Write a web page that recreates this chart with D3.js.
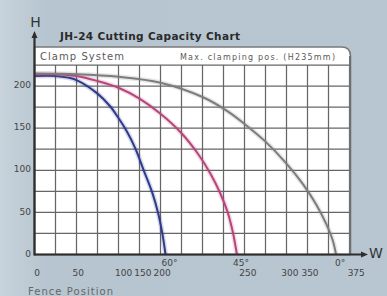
<!DOCTYPE html>
<html>
<head>
<meta charset="utf-8">
<script src="https://cdn.jsdelivr.net/npm/d3@7/dist/d3.min.js"></script>
<style>
	html, body { margin: 0; padding: 0; }
	svg { display: block; }
	text { font-family: "DejaVu Sans", sans-serif; }
</style>
</head>
<body>
<svg id="chart" width="387" height="296"></svg>
<script>
	var title = "JH-24 Cutting Capacity Chart";
	var headLeft = "Clamp System";
	var headRight = "Max. clamping pos. (H235mm)";
	var xName = "W", yName = "H", xFoot = "Fence Position";

	// fence position (mm) -> cutting height (mm), one list per mitre angle
	var angles = ["60°", "45°", "0°"];
	var colors = ["#2f3a8a", "#b8447c", "#7c7c7c"];
	var cut60 = [[0, 212], [25, 212], [40, 210], [50, 207], [75, 191], [90, 176], [100, 162],
		[110, 146], [120, 126], [130, 100], [140, 74], [147, 50], [152, 26], [156, 0]];
	var cut45 = [[0, 214], [25, 214], [50, 212], [75, 206], [100, 198], [125, 185], [150, 167],
		[175, 144], [195, 119], [210, 95], [221, 73], [230, 50], [236, 27], [241, 0]];
	var cut0 = [[0, 215], [50, 214], [100, 211], [150, 204], [200, 187], [230, 170], [250, 155],
		[275, 134], [300, 108], [320, 83], [335, 60], [347, 37], [355, 17], [359, 0]];

	var yTicks = [0, 50, 100, 150, 200];
	var xTickLabels = ["0", "50", "100", "150", "200", "250", "300", "350", "375"];
	// where the printed labels sit along the axis (they are crowded in the original)
	var xTickAt = [3, 52, 106, 129, 152, 254, 304, 328, 383];

	var svg = d3.select("#chart");
	var W = 387, H = 296;
	var pLeft = 34.5, pRight = 349.5, pTop = 65, pBottom = 254.5;

	var x = d3.scaleLinear().domain([0, 375]).range([pLeft, pRight]);
	var y = d3.scaleLinear().domain([0, 225]).range([pBottom, pTop]);

	var defs = svg.append("defs");
	var bg = defs.append("linearGradient").attr("id", "bg");
	bg.append("stop").attr("offset", "0").attr("stop-color", "#c8d3db");
	bg.append("stop").attr("offset", "0.12").attr("stop-color", "#b6c5d0");
	bg.append("stop").attr("offset", "1").attr("stop-color", "#b7c6d1");
	svg.append("rect").attr("width", W).attr("height", H).attr("fill", "url(#bg)");

	// header box with the rounded top-right corner
	var hTop = 47, r = 9;
	svg.append("path")
		.attr("d", "M" + pLeft + "," + pBottom + "V" + hTop + "H" + (pRight - r + 1)
			+ "Q" + (pRight + 1) + "," + hTop + " " + (pRight + 1) + "," + (hTop + r) + "V" + pBottom + "Z")
		.attr("fill", "#ffffff")
		.attr("stroke", "#7a7a7a")
		.attr("stroke-width", 1.6);

	svg.append("text").attr("x", 40).attr("y", 60)
		.attr("font-size", 10).attr("fill", "#5a5a5a").attr("textLength", 84)
		.text(headLeft);
	svg.append("text").attr("x", 180).attr("y", 59.5)
		.attr("font-size", 8).attr("fill", "#5a5a5a").attr("textLength", 155)
		.text(headRight);

	// grid every 25 mm
	var grid = svg.append("g").attr("stroke", "#666").attr("stroke-width", 1.25);
	d3.range(0, 376, 25).forEach(function(v) {
		grid.append("line").attr("x1", x(v)).attr("x2", x(v)).attr("y1", pTop).attr("y2", pBottom);
	});
	d3.range(0, 226, 25).forEach(function(v) {
		grid.append("line").attr("x1", pLeft).attr("x2", pRight).attr("y1", y(v)).attr("y2", y(v));
	});
	svg.append("line").attr("x1", pRight + 0.5).attr("x2", pRight + 0.5).attr("y1", hTop + r).attr("y2", pBottom)
		.attr("stroke", "#6f6f6f").attr("stroke-width", 2);

	var line = d3.line()
		.x(function(d) { return x(d[0]); })
		.y(function(d) { return y(d[1]); })
		.curve(d3.curveCatmullRom.alpha(0.5));

	var series = [cut60, cut45, cut0];
	var curves = svg.append("g").attr("fill", "none");
	series.forEach(function(s, i) {
		curves.append("path").attr("d", line(s))
			.attr("stroke", colors[i]).attr("stroke-opacity", 0.18).attr("stroke-width", 5);
		curves.append("path").attr("d", line(s))
			.attr("stroke", colors[i]).attr("stroke-width", 2);
	});

	// axes with arrows
	var axes = svg.append("g").attr("stroke", "#2e2e2e").attr("stroke-width", 2.2);
	axes.append("line").attr("x1", pLeft).attr("x2", pLeft).attr("y1", pBottom + 1).attr("y2", 36);
	axes.append("line").attr("x1", pLeft).attr("x2", 362).attr("y1", pBottom).attr("y2", pBottom);
	svg.append("path").attr("d", "M" + pLeft + ",31L" + (pLeft - 3) + ",38L" + (pLeft + 3) + ",38Z").attr("fill", "#2e2e2e");
	svg.append("path").attr("d", "M368," + pBottom + "L361," + (pBottom - 3) + "L361," + (pBottom + 3) + "Z").attr("fill", "#2e2e2e");

	svg.append("text").attr("x", pLeft + 1).attr("y", 27).attr("text-anchor", "middle")
		.attr("font-size", 14).attr("fill", "#333").text(yName);
	svg.append("text").attr("x", 376).attr("y", 258).attr("text-anchor", "middle")
		.attr("font-size", 14).attr("fill", "#333").text(xName);

	svg.append("text").attr("x", 60).attr("y", 40)
		.attr("font-size", 10.5).attr("font-weight", "bold").attr("fill", "#2a2a2a")
		.attr("textLength", 180).text(title);

	var yl = svg.append("g").attr("font-size", 9).attr("fill", "#444").attr("text-anchor", "end");
	yTicks.forEach(function(v) {
		yl.append("text").attr("x", 31).attr("y", y(v) - 1).attr("dy", "0.35em").text(v);
	});

	var xl = svg.append("g").attr("font-size", 9).attr("fill", "#444").attr("text-anchor", "middle");
	xTickLabels.forEach(function(t, i) {
		xl.append("text").attr("x", x(xTickAt[i])).attr("y", 276).text(t);
	});

	// angle marks at the end of each curve
	var al = svg.append("g").attr("font-size", 9).attr("fill", "#444").attr("text-anchor", "middle");
	series.forEach(function(s, i) {
		var end = s[s.length - 1];
		al.append("text").attr("x", x(end[0]) + 4).attr("y", 265.5).text(angles[i]);
	});

	svg.append("text").attr("x", 28).attr("y", 295).attr("font-size", 10)
		.attr("fill", "#666").attr("textLength", 85).text(xFoot);
</script>
</body>
</html>
